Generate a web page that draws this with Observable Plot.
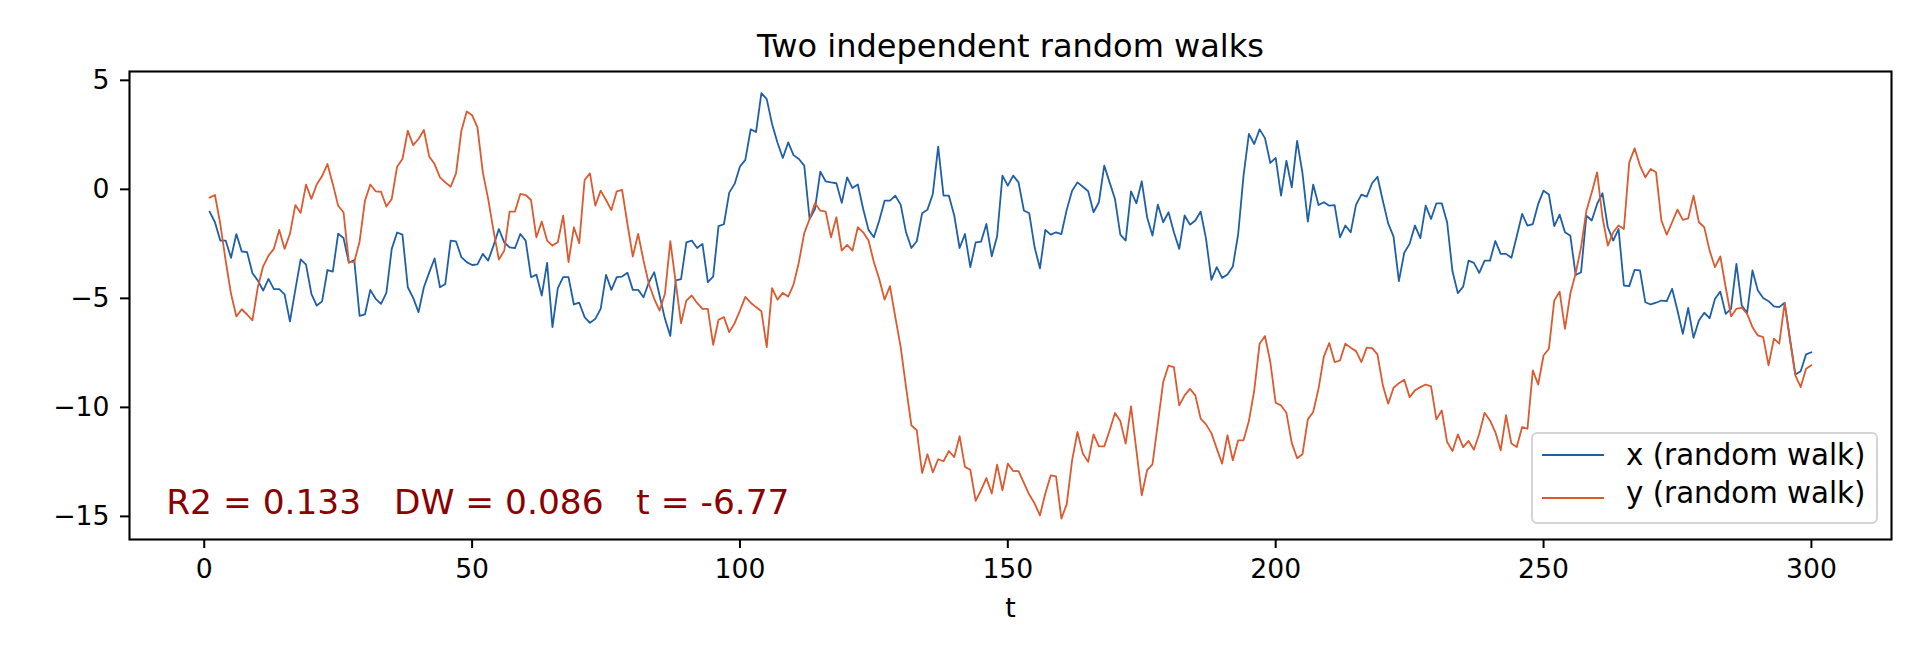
<!DOCTYPE html>
<html><head><meta charset="utf-8">
<script src="https://cdn.jsdelivr.net/npm/d3@7"></script>
<script src="https://cdn.jsdelivr.net/npm/@observablehq/plot@0.6"></script>
<style>
html,body{margin:0;padding:0;background:#fff;}
#wrap{position:relative;width:1920px;height:652px;font-family:"DejaVu Sans",sans-serif;}
#legend{position:absolute;left:1531px;top:431.7px;width:343px;height:88.5px;border:2px solid #d4d4d4;border-radius:6px;background:rgba(255,255,255,0.8);}
.sw{position:absolute;left:9.3px;width:62px;height:2px;}
.lab{position:absolute;left:93px;font-size:29.3px;line-height:1;white-space:nowrap;color:#000;}
</style></head>
<body><div id="wrap"></div>
<script>
const t = d3.range(1, 301);
const xWalk = [
-1.02,-1.51,-2.35,-2.35,-3.14,-2.05,-2.85,-2.88,-3.85,-4.18,
-4.64,-4.11,-4.58,-4.58,-4.82,-6.06,-4.61,-3.21,-3.45,-4.79,
-5.33,-5.14,-3.70,-3.77,-2.03,-2.23,-3.37,-3.24,-5.80,-5.74,
-4.61,-5.02,-5.25,-4.75,-2.73,-1.98,-2.08,-4.49,-4.98,-5.63,
-4.49,-3.81,-3.17,-4.49,-4.34,-2.35,-2.39,-3.11,-3.34,-3.47,
-3.44,-2.96,-3.27,-2.58,-1.82,-2.43,-2.66,-2.70,-2.05,-2.35,
-4.03,-3.91,-4.87,-3.37,-6.32,-4.53,-4.03,-4.03,-5.28,-5.20,
-5.86,-6.12,-5.94,-5.48,-3.92,-4.61,-4.03,-4.00,-3.83,-4.61,
-4.61,-4.95,-4.26,-3.80,-4.87,-5.94,-6.72,-4.18,-4.12,-2.43,
-2.35,-2.69,-2.50,-4.26,-4.00,-1.69,-1.60,-0.15,0.25,1.05,
1.35,2.75,2.63,4.41,4.14,2.99,2.15,1.44,2.15,1.57,
1.39,1.09,-1.36,-0.90,0.81,0.37,0.32,0.28,-0.62,0.55,
0.06,0.22,-0.90,-1.86,-2.20,-1.43,-0.52,-0.52,-0.29,-0.70,
-1.97,-2.69,-2.38,-1.10,-0.93,-0.21,1.96,-0.29,-0.29,-1.20,
-2.69,-2.05,-3.57,-2.43,-2.40,-1.59,-3.07,-2.15,0.63,0.17,
0.63,0.32,-0.97,-1.10,-2.66,-3.62,-1.86,-2.08,-1.97,-2.05,
-0.93,-0.06,0.32,0.12,-0.09,-1.05,-0.59,1.09,0.32,-0.44,
-2.08,-2.35,-0.09,-0.64,0.37,-1.28,-2.12,-0.70,-1.51,-1.05,
-1.97,-2.73,-1.20,-1.62,-1.43,-1.02,-2.27,-4.15,-3.57,-4.06,
-3.91,-3.54,-2.05,0.63,2.54,2.08,2.75,2.35,1.21,1.44,
-0.29,1.31,0.09,2.22,0.75,-1.48,0.22,-0.72,-0.59,-0.75,
-0.72,-2.20,-1.66,-1.97,-0.70,-0.24,-0.33,0.28,0.58,-0.52,
-1.56,-2.17,-4.21,-2.91,-2.50,-1.66,-2.24,-0.75,-1.36,-0.64,
-0.64,-1.51,-3.76,-4.76,-4.46,-3.27,-3.37,-3.83,-3.27,-3.27,
-2.37,-2.96,-2.96,-3.14,-2.15,-1.13,-1.66,-1.59,-0.67,-0.06,
-0.24,-1.69,-1.16,-1.97,-2.13,-3.93,-3.80,-1.21,-1.43,-0.67,
-0.18,-1.74,-2.35,-1.82,-4.41,-4.44,-3.69,-3.72,-5.18,-5.28,
-5.20,-5.10,-5.13,-4.56,-5.56,-6.63,-5.44,-6.81,-6.02,-5.66,
-5.91,-5.02,-4.69,-5.71,-5.48,-3.42,-5.33,-5.66,-3.72,-4.64,
-4.98,-5.13,-5.37,-5.40,-5.20,-6.85,-8.49,-8.34,-7.57,-7.47
];
const yWalk = [
-0.38,-0.26,-1.59,-3.27,-4.79,-5.83,-5.50,-5.74,-6.01,-4.49,
-3.53,-3.04,-2.73,-1.86,-2.73,-2.04,-0.72,-1.08,0.22,-0.44,
0.22,0.61,1.16,0.25,-0.75,-1.05,-3.34,-3.33,-2.40,-0.52,
0.22,-0.09,-0.11,-0.79,-0.44,1.04,1.39,2.69,2.03,2.31,
2.72,1.50,1.16,0.55,0.32,0.12,0.73,2.69,3.57,3.40,
2.84,0.78,-0.44,-1.89,-3.22,-2.81,-1.02,-1.02,-0.21,-0.26,
-0.49,-2.20,-1.48,-2.35,-2.58,-2.43,-1.21,-3.34,-1.74,-2.47,
0.43,0.73,-0.75,-0.06,-0.49,-0.95,-0.09,-0.03,-1.59,-3.08,
-2.04,-3.27,-4.34,-5.02,-5.56,-4.79,-2.38,-4.26,-6.14,-5.10,
-4.87,-5.21,-5.48,-5.48,-7.13,-5.98,-5.86,-6.55,-6.14,-5.56,
-4.93,-5.20,-5.40,-5.59,-7.24,-4.53,-5.06,-4.75,-4.92,-4.37,
-3.34,-2.01,-1.36,-0.64,-0.98,-1.02,-2.20,-1.28,-2.81,-2.55,
-2.81,-1.74,-1.97,-2.35,-3.34,-4.11,-5.06,-4.44,-5.86,-7.24,
-9.07,-10.82,-11.05,-13.01,-12.15,-12.98,-12.38,-12.47,-12.00,-12.28,
-11.32,-12.73,-12.86,-14.29,-13.80,-13.24,-13.95,-12.63,-13.80,-12.58,
-12.92,-12.92,-13.46,-14.00,-14.41,-14.95,-13.95,-13.12,-13.16,-15.10,
-14.44,-12.43,-11.13,-12.12,-12.50,-11.24,-11.79,-11.79,-11.06,-10.26,
-10.63,-11.66,-9.95,-11.97,-14.03,-12.88,-12.61,-10.75,-8.84,-8.08,
-8.15,-9.91,-9.45,-9.15,-9.45,-10.52,-10.78,-11.18,-11.89,-12.58,
-11.28,-12.43,-11.51,-11.51,-10.63,-9.22,-7.08,-6.73,-7.92,-9.79,
-9.91,-10.25,-11.63,-12.33,-12.15,-10.55,-10.21,-9.14,-7.66,-7.05,
-7.92,-7.85,-7.08,-7.26,-7.42,-7.92,-7.26,-7.28,-7.57,-8.99,
-9.83,-9.10,-8.89,-8.73,-9.53,-9.22,-9.07,-8.95,-9.04,-10.55,
-10.14,-11.59,-12.00,-11.24,-11.82,-11.54,-11.94,-11.21,-10.25,-10.60,
-11.13,-11.97,-10.36,-11.66,-11.82,-10.90,-10.98,-8.30,-8.95,-7.62,
-7.31,-5.10,-4.69,-6.40,-4.78,-3.85,-2.66,-0.98,-0.14,0.78,
-1.28,-2.58,-1.97,-1.66,-1.82,1.24,1.88,1.09,0.55,0.93,
0.78,-1.43,-2.08,-1.51,-0.93,-1.40,-1.33,-0.29,-1.51,-1.74,
-2.81,-3.57,-3.08,-4.49,-5.83,-5.48,-5.43,-5.71,-6.32,-6.70,
-6.78,-8.07,-6.85,-7.08,-5.22,-6.93,-8.53,-9.07,-8.23,-8.07
];
const xTicks = [0, 50, 100, 150, 200, 250, 300];
const yTicks = [-15, -10, -5, 0, 5];
const seriesNames = ["x (random walk)", "y (random walk)"];
const seriesColors = ["#1f5fa6", "#dc5a2f"];
const titleText = "Two independent random walks";
const xLabel = "t";
const statsText = "R2 = 0.133\u00a0\u00a0\u00a0DW = 0.086\u00a0\u00a0\u00a0t = -6.77";

const rows = t.flatMap((ti, i) => [
  {t: ti, v: xWalk[i], s: seriesNames[0]},
  {t: ti, v: yWalk[i], s: seriesNames[1]}
]);

const fmt = d3.format("d");
const chart = Plot.plot({
  width: 1920, height: 652,
  marginLeft: 129, marginRight: 29, marginTop: 71, marginBottom: 113,
  style: {fontFamily: "DejaVu Sans", fontSize: "26.67px", background: "white", color: "black", overflow: "visible"},
  x: {domain: [-13.95, 314.95]},
  y: {domain: [-16.06, 5.405]},
  color: {domain: seriesNames, range: seriesColors},
  marks: [
    Plot.line(rows, {x: "t", y: "v", z: "s", stroke: "s", strokeWidth: 1.8}),
    Plot.axisX({ticks: xTicks, tickFormat: fmt, tickSize: 9, tickPadding: 11, strokeWidth: 2, label: null, fontSize: 26.67}),
    Plot.axisY({ticks: yTicks, tickFormat: fmt, tickSize: 9, tickPadding: 11, strokeWidth: 2, label: null, fontSize: 26.67}),
    Plot.frame({stroke: "black", strokeWidth: 2.1}),
    Plot.text([titleText], {frameAnchor: "top", dy: -15, lineAnchor: "bottom", fontSize: 32, text: d => d, fill: "black"}),
    Plot.text([xLabel], {frameAnchor: "bottom", dy: 77, fontSize: 26.67, text: d => d, fill: "black"}),
    Plot.text([statsText], {frameAnchor: "bottom-left", dx: 36.7, dy: -26, lineAnchor: "bottom", textAnchor: "start", fontSize: 34.4, fill: "#8b0000", text: d => d})
  ]
});
const wrap = document.getElementById("wrap");
wrap.appendChild(chart);

const legend = document.createElement("div");
legend.id = "legend";
const rowTops = [7.5, 45.5];
const lineTops = [20.3, 63.3];
seriesNames.forEach((name, i) => {
  const sw = document.createElement("div");
  sw.className = "sw";
  sw.style.top = lineTops[i] + "px";
  sw.style.background = seriesColors[i];
  legend.appendChild(sw);
  const lab = document.createElement("div");
  lab.className = "lab";
  lab.style.top = rowTops[i] + "px";
  lab.textContent = name;
  legend.appendChild(lab);
});
wrap.appendChild(legend);
</script>
</body></html>
